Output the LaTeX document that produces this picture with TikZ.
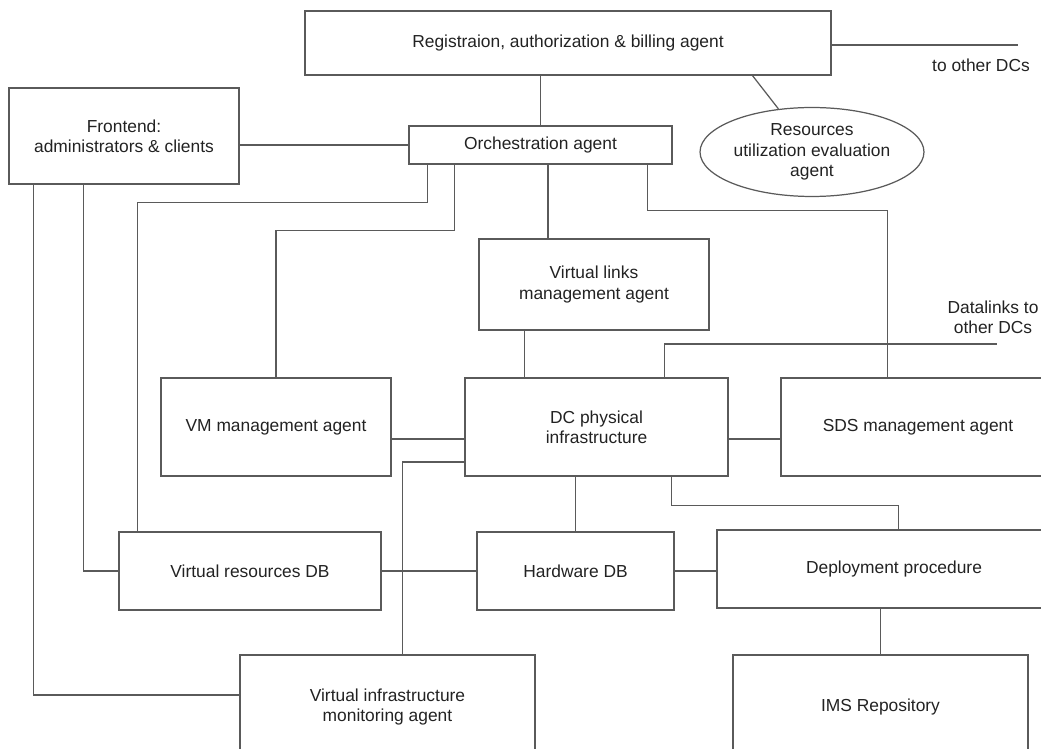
\documentclass[tikz,border=0pt]{standalone}
\usepackage{fontspec}
\setmainfont{Liberation Sans}
\usetikzlibrary{shapes.geometric,calc}
\definecolor{lncol}{HTML}{5A5A5A}
\definecolor{txcol}{HTML}{222222}
\begin{document}
\begin{tikzpicture}[x=0.02cm,y=-0.02cm,line width=0.7pt,
    box/.style={draw=lncol,rectangle,align=center,text=txcol,
        font=\fontsize{9.9}{11.5}\selectfont,inner sep=0pt},
    con/.style={draw=lncol}]
    \useasboundingbox (0,0) rectangle (1041,749);
    \clip (0,0) rectangle (1041,749);
    % agents
    \node [box,minimum width=10.52cm,minimum height=1.28cm] (reg) at (568,43)
        {Registraion, authorization \& billing agent};
    \node [box,minimum width=4.6cm,minimum height=1.92cm] (front) at (124,136)
        {Frontend:\\administrators \& clients};
    \node [box,minimum width=5.26cm,minimum height=0.76cm] (orch) at (540.5,145)
        {Orchestration agent};
    \node [box,ellipse,minimum width=4.48cm,minimum height=1.78cm] (ruea) at (812,152)
        {Resources\\utilization evaluation\\agent};
    \node [box,minimum width=4.6cm,minimum height=1.82cm] (vlink) at (594,284.5)
        {Virtual links\\management agent};
    \node [box,minimum width=4.6cm,minimum height=1.96cm] (vm) at (276,427)
        {VM management agent};
    \node [box,minimum width=5.26cm,minimum height=1.96cm] (dc) at (596.5,427)
        {DC physical\\infrastructure};
    \node [box,minimum width=5.48cm,minimum height=1.96cm] (sds) at (918,427)
        {SDS management agent};
    \node [box,minimum width=5.24cm,minimum height=1.56cm] (vrdb) at (250,571)
        {Virtual resources DB};
    \node [box,minimum width=3.94cm,minimum height=1.56cm] (hdb) at (575.5,571)
        {Hardware DB};
    \node [box,minimum width=7.08cm,minimum height=1.56cm] (deploy) at (894,569)
        {Deployment procedure};
    \node [box,minimum width=5.9cm,minimum height=2.08cm] (vim) at (387.5,707)
        {Virtual infrastructure\\monitoring agent};
    \node [box,minimum width=5.9cm,minimum height=2.08cm] (ims) at (880.5,707)
        {IMS Repository};
    % outside links
    \coordinate (dcs) at (1018,45);
    \coordinate (dl) at (997,344);
    \node [box,draw=none] (dcstext) at (981,65) {to other DCs};
    \node [box,draw=none] (dltext) at (993,317) {Datalinks to\\other DCs};
    % connectors
    \draw [con] (reg.east |- dcs) -- (dcs);
    \draw [con] (orch.north) -- (orch.north |- reg.south);
    \draw [con] (ruea) -- ($(reg.south west)!0.85!(reg.south east)$);
    \draw [con] (orch.west) -- (orch.west -| front.east);
    \draw [con] ([xshift=0.38cm]orch.south west) -- ++(0,38)
        -| ([xshift=0.38cm]vrdb.north west);
    \draw [con] ([xshift=0.92cm]orch.south west) -- ++(0,66) -| (vm.north);
    \draw [con] ([xshift=0.15cm]orch.south) -- ([xshift=0.15cm]orch.south |- vlink.north);
    \draw [con] ([xshift=-0.5cm]orch.south east) -- ++(0,46)
        -| ([xshift=2.14cm]sds.north west);
    \draw [con] ([xshift=0.92cm]vlink.south west) -- ([xshift=0.92cm]vlink.south west |- dc.north);
    \draw [con] ([yshift=-0.24cm]vm.east) -- ([yshift=-0.24cm]vm.east -| dc.west);
    \draw [con] ([yshift=-0.24cm]dc.east) -- ([yshift=-0.24cm]dc.east -| sds.west);
    \draw [con] ([xshift=4cm]dc.north west) |- (dl);
    \draw [con] ([yshift=-0.7cm]dc.west) -| ([xshift=3.26cm]vim.north west);
    \draw [con] (hdb.north) -- (hdb.north |- dc.south);
    \draw [con] ([xshift=4.14cm]dc.south west) -- ++(0,29)
        -| ([xshift=3.64cm]deploy.north west);
    \draw [con] ([xshift=1.5cm]front.south west) |- (vrdb.west);
    \draw [con] ([xshift=0.5cm]front.south west) |- ([yshift=0.24cm]vim.west);
    \draw [con] (vrdb.east) -- (hdb.west);
    \draw [con] (hdb.east) -- (hdb.east -| deploy.west);
    \draw [con] (ims.north) -- (ims.north |- deploy.south);
\end{tikzpicture}
\end{document}
